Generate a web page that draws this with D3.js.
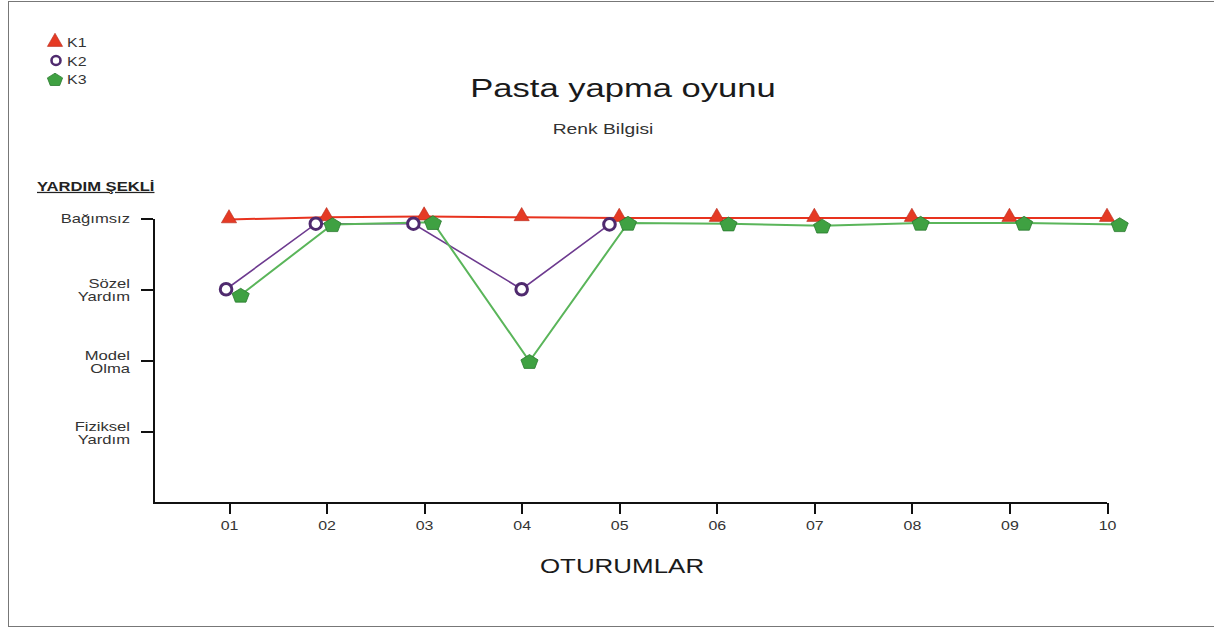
<!DOCTYPE html>
<html lang="tr">
<head>
<meta charset="utf-8">
<title>Pasta yapma oyunu</title>
<script src="https://d3js.org/d3.v7.min.js"></script>
<style>
  body { margin: 0; background: #fff; font-family: "Liberation Sans", Arial, sans-serif; }
  svg { display: block; }
  .axis path, .axis line { stroke: #111; stroke-width: 2; shape-rendering: crispEdges; }
</style>
</head>
<body>
<svg id="chart" width="1214" height="630"></svg>
<script>
// oturumlar (sessions) and help levels
const sessions = ["01", "02", "03", "04", "05", "06", "07", "08", "09", "10"];
const levels = [
  ["Fiziksel", "Yardım"],
  ["Model", "Olma"],
  ["Sözel", "Yardım"],
  ["Bağımsız"]
];

// points as [session position, level]
const k1 = [[1, 3.98], [2, 4.01], [3, 4.02], [4, 4.01], [5, 4.0], [6, 4.0], [7, 4.0], [8, 4.0], [9, 4.0], [10, 4.0]];
const k2 = [[0.97, 3.0], [1.89, 3.92], [2.89, 3.92], [4.0, 3.0], [4.9, 3.91]];
const k3 = [[1.12, 2.92], [2.06, 3.91], [3.09, 3.94], [4.08, 1.99], [5.09, 3.93], [6.12, 3.92], [7.08, 3.89], [8.09, 3.93], [9.15, 3.93], [10.13, 3.91]];

const svg = d3.select("#chart");
const sx = 1.33; // the original text is drawn wide

function label(parent, x, y, txt, size, anchor, color) {
  return parent.append("text")
    .attr("transform", `translate(${x},${y}) scale(${sx},1)`)
    .attr("text-anchor", anchor || "start")
    .attr("fill", color || "#333")
    .style("font-size", size + "px")
    .text(txt);
}

// frame
svg.append("rect")
  .attr("x", 8.5).attr("y", 1.5)
  .attr("width", 1212).attr("height", 625)
  .attr("fill", "none").attr("stroke", "#777").attr("stroke-width", 1);

const x = d3.scaleLinear().domain([1, 10]).range([229, 1107]);
const y = d3.scaleLinear().domain([0, 4]).range([503, 218]);
const x0 = 153;

// y axis
const yAxis = svg.append("g")
  .attr("class", "axis")
  .attr("transform", `translate(${x0},0)`)
  .call(d3.axisLeft(y).tickValues([1, 2, 3, 4]).tickSize(12).tickSizeOuter(0).tickFormat(""));

yAxis.selectAll(".tick").each(function(d) {
  const lines = levels[d - 1];
  const off = lines.length === 1 ? 4 : -1.5;
  lines.forEach((s, i) => {
    label(d3.select(this), -23, off + i * 13, s, 12.5, "end");
  });
});

// x axis
const xAxis = svg.append("g")
  .attr("class", "axis")
  .attr("transform", "translate(0,503)")
  .call(d3.axisBottom(x).tickValues(d3.range(1, 11)).tickSize(11).tickSizeOuter(0).tickFormat(""));
xAxis.select(".domain").remove();
xAxis.append("line")
  .attr("x1", x0).attr("x2", x(10))
  .attr("y1", 0).attr("y2", 0);
xAxis.selectAll(".tick").each(function(d, i) {
  label(d3.select(this), 0, 27, sessions[i], 12, "middle");
});

// lines
const line = d3.line().x(d => x(d[0])).y(d => y(d[1]));
svg.append("path").datum(k1).attr("d", line)
  .attr("fill", "none").attr("stroke", "#e8321e").attr("stroke-width", 2);
svg.append("path").datum(k2).attr("d", line)
  .attr("fill", "none").attr("stroke", "#6d3a8f").attr("stroke-width", 1.6);
svg.append("path").datum(k3).attr("d", line)
  .attr("fill", "none").attr("stroke", "#5ab55a").attr("stroke-width", 2);

// marker shapes
const triangle = d3.symbol().type(d3.symbolTriangle).size(100);
function pentagon(r) {
  const pts = d3.range(5).map(i => {
    const a = -Math.PI / 2 + i * 2 * Math.PI / 5;
    return [r * Math.cos(a), r * Math.sin(a) * 0.85 + 1];
  });
  return "M" + pts.map(p => p.join(",")).join("L") + "Z";
}

svg.selectAll(".m1").data(k1).join("path")
  .attr("class", "m1")
  .attr("transform", d => `translate(${x(d[0])},${y(d[1]) - 1})`)
  .attr("d", triangle)
  .attr("fill", "#e53a24").attr("stroke", "#b5281a").attr("stroke-width", 0.6);

svg.selectAll(".m2").data(k2).join("circle")
  .attr("class", "m2")
  .attr("cx", d => x(d[0])).attr("cy", d => y(d[1]))
  .attr("r", 5.8)
  .attr("fill", "#fff").attr("stroke", "#4f2a6e").attr("stroke-width", 3);

svg.selectAll(".m3").data(k3).join("path")
  .attr("class", "m3")
  .attr("transform", d => `translate(${x(d[0])},${y(d[1])})`)
  .attr("d", pentagon(9))
  .attr("fill", "#3fa142").attr("stroke", "#2a7a2e").attr("stroke-width", 0.8);

// legend
const legend = [
  {name: "K1", kind: "tri"},
  {name: "K2", kind: "circ"},
  {name: "K3", kind: "pent"}
];
const lg = svg.append("g").attr("transform", "translate(55,42)");
legend.forEach((d, i) => {
  const g = lg.append("g").attr("transform", `translate(0,${i * 18.5})`);
  if (d.kind === "tri") {
    g.append("path").attr("d", triangle)
      .attr("fill", "#e53a24").attr("stroke", "#b5281a").attr("stroke-width", 0.6);
  } else if (d.kind === "circ") {
    g.append("circle").attr("cx", 1).attr("cy", 0).attr("r", 4.5)
      .attr("fill", "#fff").attr("stroke", "#4f2a6e").attr("stroke-width", 2.6);
  } else {
    g.append("path").attr("d", pentagon(8))
      .attr("fill", "#3fa142").attr("stroke", "#2a7a2e").attr("stroke-width", 0.8);
  }
  label(g, 12, 5, d.name, 12);
});

// titles
label(svg, 623, 97, "Pasta yapma oyunu", 26, "middle", "#1a1a1a");
label(svg, 603, 134, "Renk Bilgisi", 14.5, "middle");

label(svg, 37, 191, "YARDIM ŞEKLİ", 12.5, "start", "#222")
  .style("font-weight", "bold")
  .style("text-decoration", "underline");

label(svg, 622, 573, "OTURUMLAR", 19.5, "middle", "#1a1a1a");
</script>
</body>
</html>
